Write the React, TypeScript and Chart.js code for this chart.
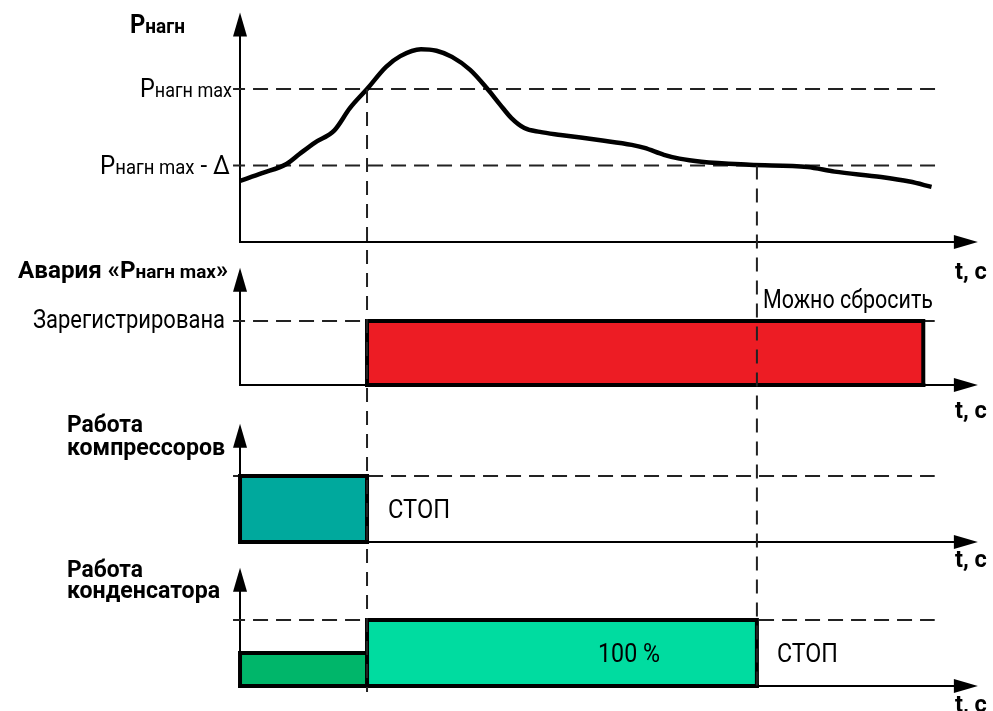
import React, { useEffect, useRef } from "react";
import { Chart, registerables } from "chart.js";

Chart.register(...registerables);

// ---------- time axis (s) ----------
const timeMin = -18.9;
const timeMax = 59.29;
const eventTimes = [10, 40.7]; // t1: Pнагн > max, t2: Pнагн < max - Δ
const eventLevels = [10, 5]; // pressure level where each event line starts (panel 1)
const eventLineBottom = -0.09; // bottom of event lines (panel 4 units)
const axisArrowTime = 58.1;
const levelLineFrom = -0.55;
const levelLineTo = [55.1, 54.7, 54.7, 54.7];

// ---------- panel 1: discharge pressure ----------
const pressureTimes = [
  0, 1.73, 3.66, 4.68, 5.9, 7.43, 8.65, 10, 11.5, 12.62, 14.25, 15.47, 16.69, 18.12, 19.44, 20.46,
  21.37, 22.39, 23.61, 25.24, 28.39, 30.84, 31.85, 33.38, 34.6, 36.33, 40.1, 44.68, 46.82, 50.48,
  52.72, 54.45,
];
const pressureValues = [
  4.0, 4.5, 5.1, 5.75, 6.5, 7.3, 8.75, 10.0, 11.45, 12.15, 12.6, 12.5, 12.1, 11.25, 10.05, 9.0,
  8.1, 7.45, 7.2, 7.0, 6.65, 6.35, 6.15, 5.7, 5.45, 5.25, 5.05, 4.9, 4.6, 4.25, 3.95, 3.6,
];
const pressureMax = 10;
const pressureMaxDelta = 5;

// ---------- panel 2: alarm ----------
const alarmSpan = [10, 53.8];
const alarmLevel = 1;

// ---------- panel 3: compressors ----------
const compressorSpan = [0, 10];
const compressorLevel = 1;

// ---------- panel 4: condenser ----------
const condenserSpans = [
  [0, 10],
  [10, 40.7],
];
const condenserLevels = [0.5, 1];
const condenserFull = 1;

// ---------- panel scales ----------
const panelIds = ["y1", "y2", "y3", "y4"];
const panelRanges = [
  [-0.85, 15.82],
  [-0.234, 2.03],
  [-0.197, 2.15],
  [-0.379, 1.985],
];
const panelWeights = [255, 145, 155, 156];
const arrowTops = [15.0, 1.83, 1.79, 1.79];

const RED = "#ED1C24";
const TEAL = "#00A99D";
const DARK_GREEN = "#00B66A";
const LIGHT_GREEN = "#00DCA0";
const INK = "#000000";
const DASH = "#222222";
const FONT = "Roboto, 'Liberation Sans', Arial, sans-serif";

type Part = [string, number, boolean?];

function drawRich(
  ctx: CanvasRenderingContext2D,
  parts: Part[],
  anchorX: number,
  baseline: number,
  width: number,
  align: "left" | "right"
) {
  ctx.save();
  let natural = 0;
  const widths: number[] = [];
  for (const [text, size, bold] of parts) {
    ctx.font = `${bold ? "bold " : ""}${size}px ${FONT}`;
    const w = ctx.measureText(text).width;
    widths.push(w);
    natural += w;
  }
  const sx = width / natural;
  const left = align === "left" ? anchorX : anchorX - width;
  ctx.translate(left, baseline);
  ctx.scale(sx, 1);
  ctx.fillStyle = INK;
  ctx.textBaseline = "alphabetic";
  ctx.textAlign = "left";
  let cx = 0;
  parts.forEach(([text, size, bold], i) => {
    ctx.font = `${bold ? "bold " : ""}${size}px ${FONT}`;
    ctx.fillText(text, cx, 0);
    cx += widths[i];
  });
  ctx.restore();
}

const diagramPlugin = {
  id: "diagram",
  beforeDatasetsDraw(chart: any) {
    const ctx: CanvasRenderingContext2D = chart.ctx;
    const xs = chart.scales.x;
    const x0 = xs.getPixelForValue(0);
    const xTip = xs.getPixelForValue(axisArrowTime);
    ctx.save();
    ctx.strokeStyle = INK;
    ctx.fillStyle = INK;
    ctx.lineWidth = 2;
    panelIds.forEach((id, i) => {
      const ys = chart.scales[id];
      const y0 = ys.getPixelForValue(0);
      const yTip = ys.getPixelForValue(arrowTops[i]);
      ctx.beginPath();
      ctx.moveTo(x0, y0 + 1);
      ctx.lineTo(x0, yTip + 20);
      ctx.stroke();
      ctx.beginPath();
      ctx.moveTo(x0 - 1, y0);
      ctx.lineTo(xTip - 20, y0);
      ctx.stroke();
      ctx.beginPath();
      ctx.moveTo(x0, yTip);
      ctx.lineTo(x0 - 7, yTip + 24);
      ctx.lineTo(x0 + 7, yTip + 24);
      ctx.closePath();
      ctx.fill();
      ctx.beginPath();
      ctx.moveTo(xTip, y0);
      ctx.lineTo(xTip - 24, y0 - 7);
      ctx.lineTo(xTip - 24, y0 + 7);
      ctx.closePath();
      ctx.fill();
    });
    ctx.restore();
  },
  afterDatasetsDraw(chart: any) {
    const ctx: CanvasRenderingContext2D = chart.ctx;
    const xs = chart.scales.x;
    const [s1, s2, s3, s4] = panelIds.map((id) => chart.scales[id]);
    // event lines
    ctx.save();
    ctx.strokeStyle = DASH;
    ctx.lineWidth = 2;
    ctx.setLineDash([14, 9]);
    eventTimes.forEach((t, i) => {
      const x = xs.getPixelForValue(t);
      ctx.beginPath();
      ctx.moveTo(x, s1.getPixelForValue(eventLevels[i]));
      ctx.lineTo(x, s4.getPixelForValue(eventLineBottom));
      ctx.stroke();
    });
    ctx.restore();

    const x0 = xs.getPixelForValue(0);
    const e1 = xs.getPixelForValue(eventTimes[0]);
    const e2 = xs.getPixelForValue(eventTimes[1]);
    const xTip = xs.getPixelForValue(axisArrowTime);
    const b = [s1, s2, s3, s4].map((s) => s.getPixelForValue(0));

    drawRich(ctx, [["P", 25, true], ["нагн", 20, true]], x0 - 110, b[0] - 209, 55, "left");
    drawRich(ctx, [["P", 26], ["нагн max", 20]], x0 - 8, s1.getPixelForValue(pressureMax) + 8, 92, "right");
    drawRich(
      ctx,
      [["P", 26], ["нагн max", 20], [" - Δ", 26]],
      x0 - 10,
      s1.getPixelForValue(pressureMaxDelta) + 8,
      130,
      "right"
    );

    drawRich(ctx, [["Авария «P", 23, true], ["нагн max", 18, true], ["»", 23, true]], x0 - 222, b[1] - 107, 210, "left");
    drawRich(ctx, [["Зарегистрирована", 26]], x0 - 15, s2.getPixelForValue(alarmLevel) + 7, 192, "right");
    drawRich(ctx, [["Можно сбросить", 26]], e2 + 6, s2.getPixelForValue(alarmLevel) - 13, 170, "left");

    drawRich(ctx, [["Работа", 24, true]], x0 - 173, b[2] - 110, 76, "left");
    drawRich(ctx, [["компрессоров", 24, true]], x0 - 173, b[2] - 87, 158, "left");
    drawRich(ctx, [["СТОП", 26]], e1 + 21, b[2] - 24, 62, "left");

    drawRich(ctx, [["Работа", 24, true]], x0 - 173, b[3] - 109, 76, "left");
    drawRich(ctx, [["конденсатора", 24, true]], x0 - 173, b[3] - 88, 153, "left");
    drawRich(ctx, [["100 %", 26]], e1 + 231, b[3] - 24, 62, "left");
    drawRich(ctx, [["СТОП", 26]], e2 + 20, b[3] - 24, 61, "left");

    const tOffsets = [37, 33, 25, 26];
    b.forEach((y0, i) => {
      drawRich(ctx, [["t, с", 24, true]], xTip - 23, y0 + tOffsets[i], 32, "left");
    });
  },
};

function dashedLevel(yAxisID: string, level: number, to: number) {
  return {
    type: "line",
    yAxisID,
    data: [
      { x: levelLineFrom, y: level },
      { x: to, y: level },
    ],
    borderColor: DASH,
    borderWidth: 2,
    borderDash: [15, 8],
    borderDashOffset: 3,
    pointRadius: 0,
    fill: false,
    tension: 0,
    order: 5,
  };
}

function boxFill(yAxisID: string, span: number[], level: number, color: string) {
  return {
    type: "line",
    yAxisID,
    data: [
      { x: span[0], y: 0 },
      { x: span[0], y: level },
      { x: span[1], y: level },
      { x: span[1], y: 0 },
    ],
    borderColor: INK,
    borderWidth: 4,
    borderCapStyle: "square",
    borderJoinStyle: "miter",
    backgroundColor: color,
    fill: "origin",
    pointRadius: 0,
    tension: 0,
    order: 2,
  };
}

function boxBase(yAxisID: string, span: number[]) {
  return {
    type: "line",
    yAxisID,
    data: [
      { x: span[0], y: 0 },
      { x: span[1], y: 0 },
    ],
    borderColor: INK,
    borderWidth: 4,
    borderCapStyle: "square",
    pointRadius: 0,
    fill: false,
    tension: 0,
    order: 1,
  };
}

export default function App() {
  const ref = useRef<HTMLCanvasElement>(null);
  useEffect(() => {
    const canvas = ref.current;
    if (!canvas) return;
    const scales: any = {
      x: { type: "linear", min: timeMin, max: timeMax, display: false },
    };
    panelIds.forEach((id, i) => {
      scales[id] = {
        type: "linear",
        position: "left",
        stack: "panels",
        stackWeight: panelWeights[i],
        weight: panelIds.length - i,
        min: panelRanges[i][0],
        max: panelRanges[i][1],
        display: false,
      };
    });

    const datasets: any[] = [
      {
        type: "line",
        label: "Pнагн",
        yAxisID: "y1",
        data: pressureTimes.map((t, i) => ({ x: t, y: pressureValues[i] })),
        borderColor: INK,
        borderWidth: 4.5,
        pointRadius: 0,
        fill: false,
        cubicInterpolationMode: "monotone",
        order: 0,
      },
      dashedLevel("y1", pressureMax, levelLineTo[0]),
      dashedLevel("y1", pressureMaxDelta, levelLineTo[0]),
      dashedLevel("y2", alarmLevel, levelLineTo[1]),
      dashedLevel("y3", compressorLevel, levelLineTo[2]),
      dashedLevel("y4", condenserFull, levelLineTo[3]),
      boxFill("y2", alarmSpan, alarmLevel, RED),
      boxBase("y2", alarmSpan),
      boxFill("y3", compressorSpan, compressorLevel, TEAL),
      boxBase("y3", compressorSpan),
      boxFill("y4", condenserSpans[0], condenserLevels[0], DARK_GREEN),
      boxBase("y4", condenserSpans[0]),
      boxFill("y4", condenserSpans[1], condenserLevels[1], LIGHT_GREEN),
      boxBase("y4", condenserSpans[1]),
    ];

    const chart = new Chart(canvas, {
      type: "line",
      data: { datasets },
      options: {
        responsive: false,
        devicePixelRatio: 1,
        animation: false,
        layout: { padding: 0 },
        scales,
        plugins: {
          legend: { display: false },
          title: { display: false },
          tooltip: { enabled: false },
        },
        events: [],
      } as any,
      plugins: [diagramPlugin as any],
    });
    return () => chart.destroy();
  }, []);

  return (
    <div style={{ position: "absolute", left: 0, top: 0, width: 993, height: 711, background: "#fff" }}>
      <canvas ref={ref} width={993} height={711} style={{ display: "block" }} />
    </div>
  );
}
